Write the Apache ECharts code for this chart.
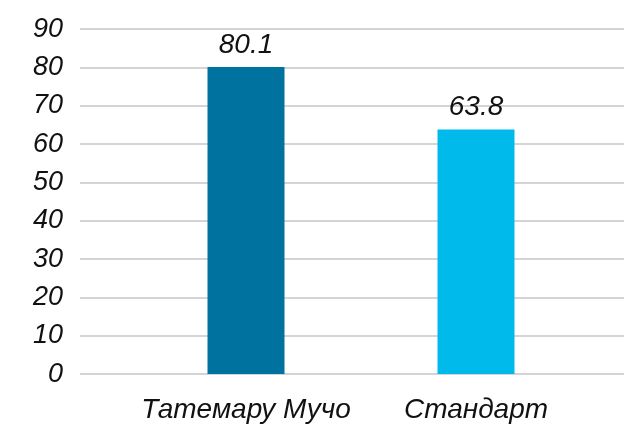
<!DOCTYPE html>
<html>
<head>
<meta charset="utf-8">
<title>bar chart</title>
<script src="https://cdn.jsdelivr.net/npm/echarts@6/dist/echarts.min.js"></script>
<style>
html, body { margin: 0; padding: 0; background: #fff; }
#main { width: 624px; height: 428px; }
</style>
</head>
<body>
<div id="main"></div>
<script>
var categories = ['Татемару Мучо', 'Стандарт'];
var values = [80.1, 63.8];
var barColors = ['#00729f', '#00baec'];
var yTicks = [0, 10, 20, 30, 40, 50, 60, 70, 80, 90];

var font = 'Liberation Sans';
var chart = echarts.init(document.getElementById('main'));

var option = {
    animation: false,
    grid: [
        // background grid: y labels and horizontal lines
        { left: 80, right: 0, top: 29, bottom: 54 },
        // bars
        { left: 131, right: 33, top: 29, bottom: 54 }
    ],
    xAxis: [
        { type: 'category', gridIndex: 0, data: categories, show: false },
        {
            type: 'category', gridIndex: 1, data: categories,
            axisLine: { show: false },
            axisTick: { show: false },
            axisLabel: {
                interval: 0,
                hideOverlap: false,
                margin: 22,
                color: '#111',
                fontSize: 28,
                fontStyle: 'italic',
                fontFamily: font
            }
        }
    ],
    yAxis: [
        {
            type: 'value', gridIndex: 0,
            min: yTicks[0], max: yTicks[yTicks.length - 1], interval: 10,
            axisLine: { show: false },
            axisTick: { show: false },
            splitLine: { lineStyle: { color: '#d4d4d4', width: 2 } },
            axisLabel: {
                margin: 17,
                color: '#111',
                fontSize: 27,
                fontStyle: 'italic',
                fontFamily: font
            }
        },
        {
            type: 'value', gridIndex: 1,
            min: yTicks[0], max: yTicks[yTicks.length - 1], interval: 10,
            show: false
        }
    ],
    series: [
        {
            type: 'bar',
            xAxisIndex: 1,
            yAxisIndex: 1,
            barWidth: 77,
            data: values.map(function (v, i) {
                return { value: v, itemStyle: { color: barColors[i] } };
            }),
            label: {
                show: true,
                position: 'top',
                distance: 8,
                color: '#111',
                fontSize: 28,
                fontStyle: 'italic',
                fontFamily: font
            }
        }
    ]
};
chart.setOption(option);
</script>
</body>
</html>
